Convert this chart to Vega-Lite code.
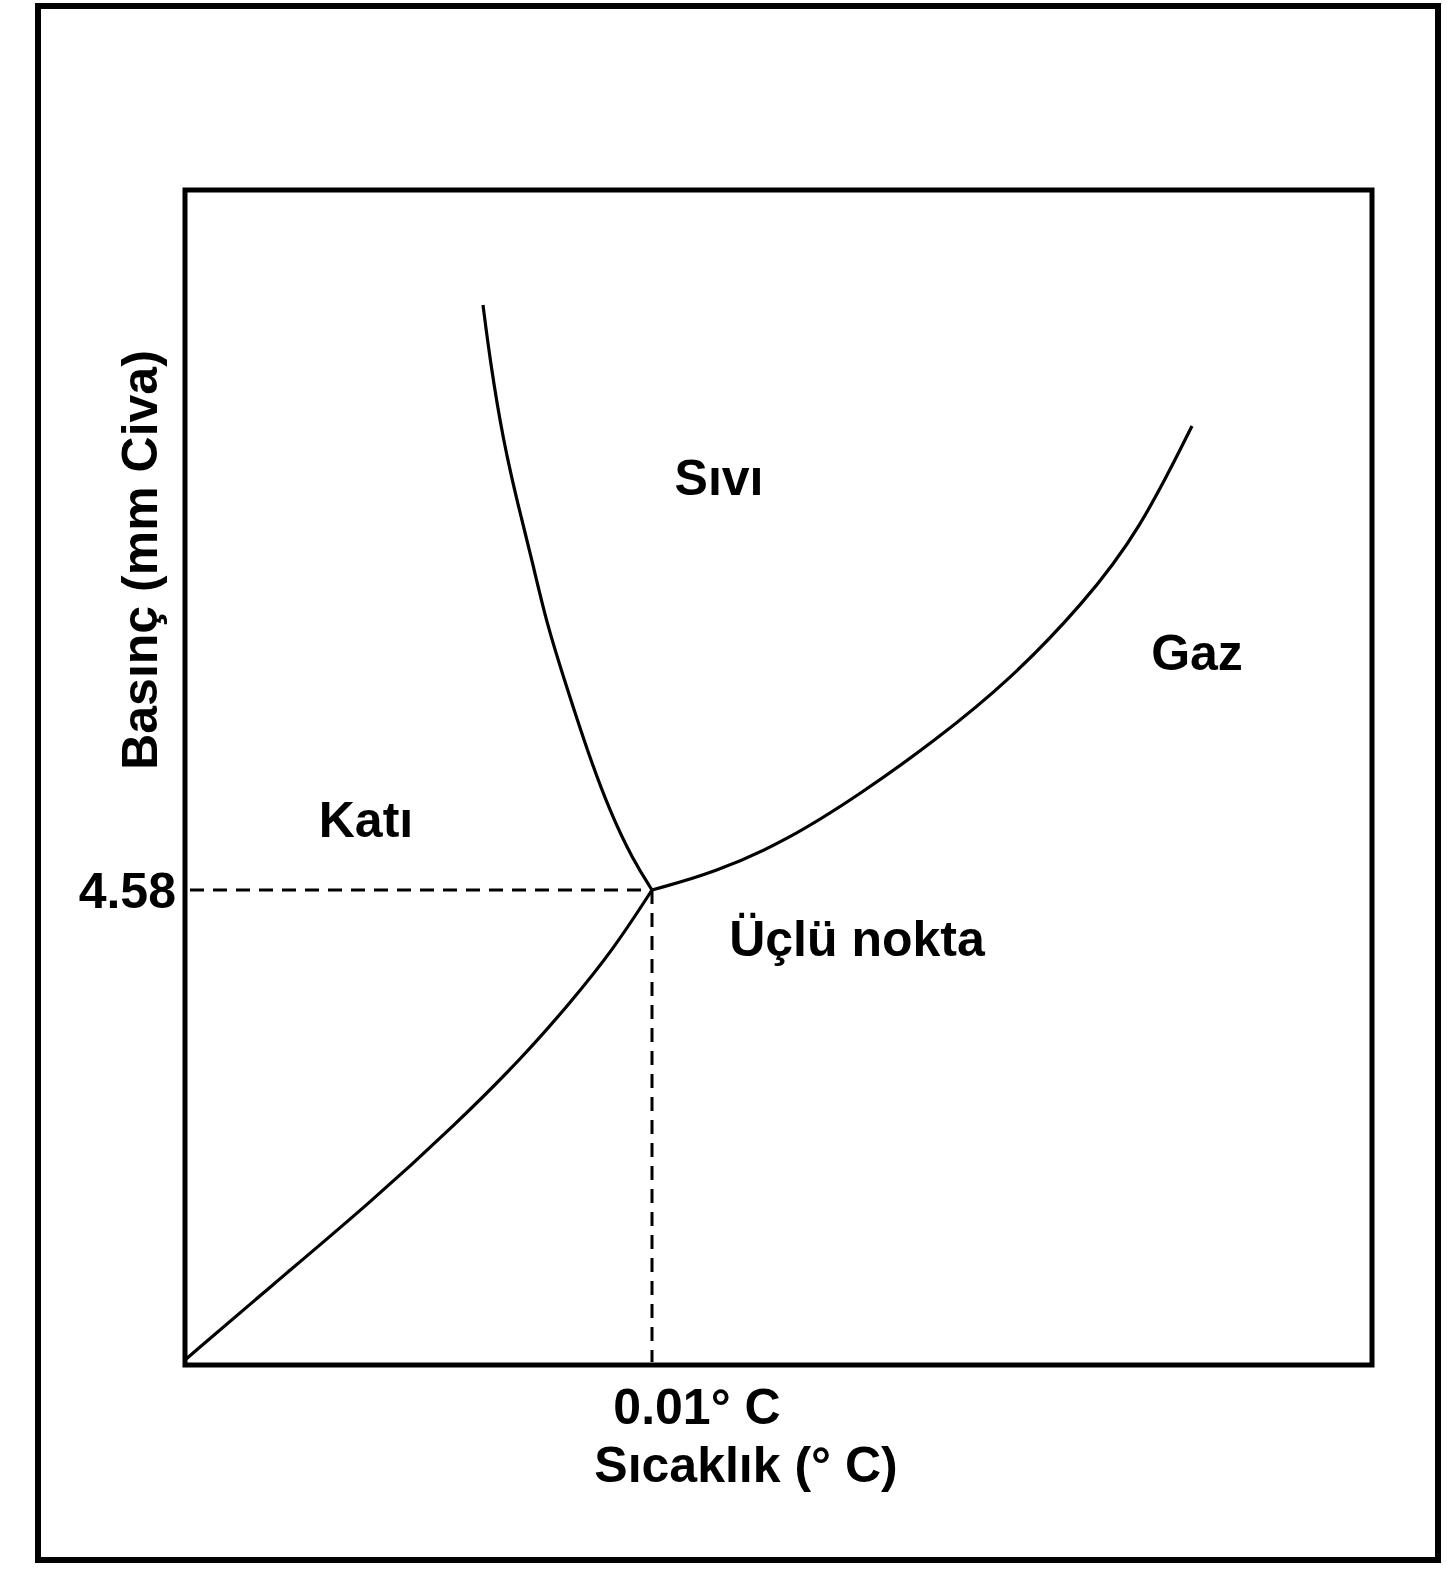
{
  "$schema": "https://vega.github.io/schema/vega-lite/v6.json",
  "width": 1400,
  "height": 1554,
  "autosize": {"type": "none"},
  "padding": {"left": 38, "top": 6, "right": 9, "bottom": 13},
  "background": "white",
  "view": {"stroke": "black", "strokeWidth": 6, "fill": "white"},
  "config": {"text": {"font": "Liberation Sans", "fontWeight": "bold", "fontSize": 50, "color": "black"}},
  "datasets": {
    "curves": [
      {"curve": "erime", "i": 0, "T": 483, "P": 1268},
      {"curve": "erime", "i": 1, "T": 490, "P": 1213},
      {"curve": "erime", "i": 2, "T": 503, "P": 1133},
      {"curve": "erime", "i": 3, "T": 518, "P": 1068},
      {"curve": "erime", "i": 4, "T": 532, "P": 1013},
      {"curve": "erime", "i": 5, "T": 547, "P": 948},
      {"curve": "erime", "i": 6, "T": 567, "P": 885},
      {"curve": "erime", "i": 7, "T": 587, "P": 823},
      {"curve": "erime", "i": 8, "T": 610, "P": 761},
      {"curve": "erime", "i": 9, "T": 633, "P": 713},
      {"curve": "erime", "i": 10, "T": 652, "P": 683},
      {"curve": "sublimasyon", "i": 0, "T": 185, "P": 213},
      {"curve": "sublimasyon", "i": 1, "T": 270, "P": 286},
      {"curve": "sublimasyon", "i": 2, "T": 370, "P": 370},
      {"curve": "sublimasyon", "i": 3, "T": 457, "P": 450},
      {"curve": "sublimasyon", "i": 4, "T": 523, "P": 516},
      {"curve": "sublimasyon", "i": 5, "T": 570, "P": 570},
      {"curve": "sublimasyon", "i": 6, "T": 613, "P": 623},
      {"curve": "sublimasyon", "i": 7, "T": 652, "P": 683},
      {"curve": "buharlasma", "i": 0, "T": 652, "P": 683},
      {"curve": "buharlasma", "i": 1, "T": 714, "P": 700},
      {"curve": "buharlasma", "i": 2, "T": 788, "P": 733},
      {"curve": "buharlasma", "i": 3, "T": 862, "P": 780},
      {"curve": "buharlasma", "i": 4, "T": 936, "P": 833},
      {"curve": "buharlasma", "i": 5, "T": 1010, "P": 893},
      {"curve": "buharlasma", "i": 6, "T": 1084, "P": 970},
      {"curve": "buharlasma", "i": 7, "T": 1140, "P": 1043},
      {"curve": "buharlasma", "i": 8, "T": 1192, "P": 1147}
    ],
    "guides": [
      {"T": 190, "P": 683, "T2": 652, "P2": 683},
      {"T": 652, "P": 683, "T2": 652, "P2": 211}
    ],
    "box": [
      {"T": 185, "P": 208, "T2": 1372, "P2": 1383}
    ],
    "phases": [
      {"label": "Sıvı", "T": 719, "P": 1078},
      {"label": "Gaz", "T": 1197, "P": 903},
      {"label": "Katı", "T": 366, "P": 736},
      {"label": "Üçlü nokta", "T": 857, "P": 617},
      {"label": "0.01° C", "T": 697, "P": 149},
      {"label": "Sıcaklık (° C)", "T": 746, "P": 91}
    ],
    "ticks": [
      {"label": "4.58", "T": 176, "P": 665}
    ],
    "ytitle": [
      {"label": "Basınç (mm Civa)", "T": 157, "P": 1013}
    ]
  },
  "encoding": {
    "x": {"field": "T", "type": "quantitative", "scale": {"domain": [38, 1438], "nice": false, "zero": false}, "axis": null},
    "y": {"field": "P", "type": "quantitative", "scale": {"domain": [13, 1567], "nice": false, "zero": false}, "axis": null}
  },
  "layer": [
    {
      "data": {"name": "box"},
      "mark": {"type": "rect", "fill": "transparent", "stroke": "black", "strokeWidth": 5},
      "encoding": {"x2": {"field": "T2"}, "y2": {"field": "P2"}}
    },
    {
      "data": {"name": "guides"},
      "mark": {"type": "rule", "stroke": "black", "strokeWidth": 3, "strokeDash": [14, 9]},
      "encoding": {"x2": {"field": "T2"}, "y2": {"field": "P2"}}
    },
    {
      "data": {"name": "curves"},
      "mark": {"type": "line", "stroke": "black", "strokeWidth": 3.2, "interpolate": "basis"},
      "encoding": {"detail": {"field": "curve"}, "order": {"field": "i", "type": "quantitative"}}
    },
    {
      "data": {"name": "phases"},
      "mark": {"type": "text", "align": "center", "baseline": "alphabetic"},
      "encoding": {"text": {"field": "label"}}
    },
    {
      "data": {"name": "ticks"},
      "mark": {"type": "text", "align": "right", "baseline": "alphabetic"},
      "encoding": {"text": {"field": "label"}}
    },
    {
      "data": {"name": "ytitle"},
      "mark": {"type": "text", "align": "center", "baseline": "alphabetic", "angle": -90},
      "encoding": {"text": {"field": "label"}}
    }
  ]
}
